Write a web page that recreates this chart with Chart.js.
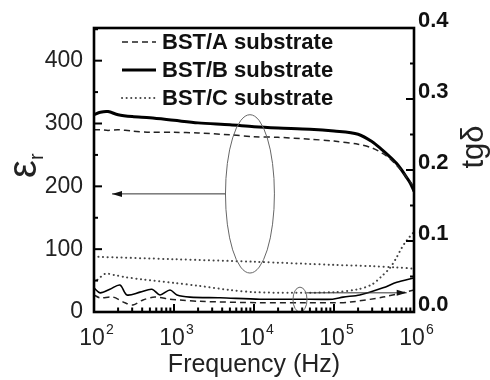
<!DOCTYPE html>
<html><head><meta charset="utf-8">
<script src="https://cdn.jsdelivr.net/npm/chart.js@4.4.1/dist/chart.umd.min.js"></script>
<style>html,body{margin:0;padding:0;background:#fff;}canvas{display:block;}</style>
</head><body>
<canvas id="c" width="490" height="380"></canvas>
<script>
// ---- data ----
const freqEps = [100,120,150,200,300,500,1000,2000,5000,1e4,2e4,5e4,1e5,2e5,3e5,4e5,5e5,6e5,7e5,8e5,9e5,1e6];
const epsA = [290,290,289,290,288,286,286,285,282,279,278,275,272,267,261,253,244,234,225,215,207,199];
const epsB = [314,318,319,314,311,309,305,301,298,295,293,291,288,283,271,258,247,237,226,215,205,192];
const freqEpsC = [100,1000,1e4,1e5,3e5,6e5,1e6];
const epsC = [88,84,80,75,73,71,69];

const freqTanA = [100,119,173,244,307,410,578,891,1189,2113,1.19e4,3.76e4,9.6e4,1.6e5,4.1e5,1e6];
const tanA = [0.024,0.020,0.021,0.013,0.010,0.017,0.021,0.018,0.017,0.015,0.013,0.013,0.013,0.014,0.021,0.031];
const freqTanB = [100,119,158,211,258,376,531,668,891,1089,1585,3758,1.19e4,3.76e4,9.6e4,1.3e5,2.1e5,4.1e5,6.1e5,1e6];
const tanB = [0.034,0.027,0.032,0.038,0.024,0.028,0.032,0.024,0.031,0.024,0.021,0.020,0.018,0.018,0.018,0.021,0.024,0.034,0.042,0.048];
const freqTanC = [100,120,140,180,250,400,1000,2000,5000,1e4,3e4,1e5,2e5,3e5,4e5,5e5,6e5,7e5,8e5,1e6];
const tanC = [0.041,0.049,0.054,0.052,0.049,0.046,0.041,0.037,0.031,0.028,0.027,0.028,0.032,0.039,0.051,0.062,0.076,0.090,0.100,0.113];

const seriesLabels = ['BST/A substrate','BST/B substrate','BST/C substrate'];
const xTickValues = [1e2,1e3,1e4,1e5,1e6];
const xTickBase = '10';
const xTickExponents = ['2','3','4','5','6'];
const yTickValues = [0,100,200,300,400];
const y2TickValues = [0,0.1,0.2,0.3,0.4];
const y2TickLabels = ['0.0','0.1','0.2','0.3','0.4'];
const xRange = [100,1e6];
const yRange = [0,452];
const y2Range = [0,0.4];
// annotation anchors in data units
const bigEllipse = {f:[4400,18000], v:[62,314]};
const bigArrow = {f:[4400,168], v:188};
const smallEllipse = {f:[30700,46000], v:[0,0.035]};
const smallArrow = {f:[46000,8.1e5], v:0.027};

const pts = (xs, ys) => xs.map((x,i)=>({x, y: ys[i]}));

const styleA = {borderColor:'#222', borderWidth:1.5, borderDash:[6,4]};
const styleB = {borderColor:'#000', borderWidth:3, borderDash:[]};
const styleC = {borderColor:'#444', borderWidth:2, borderDash:[0.1,4.5], borderCapStyle:'round'};

const common = {pointRadius:0, fill:false, tension:0.3};
const datasets = [
  {label:seriesLabels[0], data:pts(freqEps,epsA), yAxisID:'y', ...styleA, ...common},
  {label:seriesLabels[1], data:pts(freqEps,epsB), yAxisID:'y', ...styleB, ...common},
  {label:seriesLabels[2], data:pts(freqEpsC,epsC), yAxisID:'y', ...styleC, ...common},
  {label:seriesLabels[0]+' tg', data:pts(freqTanA,tanA), yAxisID:'y2', ...styleA, ...common},
  {label:seriesLabels[1]+' tg', data:pts(freqTanB,tanB), yAxisID:'y2', ...styleB, borderWidth:1.6, ...common},
  {label:seriesLabels[2]+' tg', data:pts(freqTanC,tanC), yAxisID:'y2', ...styleC, ...common},
];

const FONT = "'Liberation Sans', Arial, sans-serif";

const frame = {
  id:'frame',
  afterDatasetsDraw(chart){
    const {ctx, chartArea:a, scales:{x,y,y2}} = chart;
    ctx.save();
    const line=(x1,y1,x2,y2_)=>{ctx.beginPath();ctx.moveTo(x1,y1);ctx.lineTo(x2,y2_);ctx.stroke();};
    // annotations
    ctx.strokeStyle='#666'; ctx.lineWidth=1; ctx.setLineDash([]);
    const ell=(e,ys)=>{
      const x1=x.getPixelForValue(e.f[0]), x2=x.getPixelForValue(e.f[1]);
      const yA=ys.getPixelForValue(e.v[0]), yB=ys.getPixelForValue(e.v[1]);
      ctx.beginPath(); ctx.ellipse((x1+x2)/2,(yA+yB)/2,Math.abs(x2-x1)/2,Math.abs(yA-yB)/2,0,0,Math.PI*2); ctx.stroke();
    };
    const arrow=(ar,ys)=>{
      const x1=x.getPixelForValue(ar.f[0]), x2=x.getPixelForValue(ar.f[1]), yy=ys.getPixelForValue(ar.v);
      ctx.strokeStyle='#333'; line(x1,yy,x2,yy);
      const dir=Math.sign(x2-x1);
      ctx.fillStyle='#111'; ctx.beginPath(); ctx.moveTo(x2,yy); ctx.lineTo(x2-dir*10,yy-3); ctx.lineTo(x2-dir*10,yy+3); ctx.closePath(); ctx.fill();
    };
    ell(bigEllipse,y); arrow(bigArrow,y);
    ctx.strokeStyle='#666'; ell(smallEllipse,y2); arrow(smallArrow,y2);
    // inward ticks
    ctx.strokeStyle='#000'; ctx.lineWidth=2;
    for(let d=2; d<=6; d++) for(let m=1;m<=9;m++){const v=m*Math.pow(10,d); if(v>1e6) break; const px=x.getPixelForValue(v); line(px,a.bottom,px,a.bottom-(m===1?8:4.5));}
    for(let v=0; v<=450; v+=50){const py=y.getPixelForValue(v); line(a.left,py,a.left+(v%100===0?8:4),py);}
    for(let i=0;i<=8;i++){const v=i*0.05; const py=y2.getPixelForValue(v); line(a.right,py,a.right-(i%2===0?8:4),py);}
    ctx.lineWidth=2.6; ctx.strokeRect(a.left,a.top,a.right-a.left,a.bottom-a.top);
    // x tick labels: 10 with raised exponent
    ctx.fillStyle='#222'; ctx.textBaseline='alphabetic'; ctx.textAlign='left';
    xTickValues.forEach((v,i)=>{
      const px=x.getPixelForValue(v);
      ctx.font="23px "+FONT; const wb=ctx.measureText(xTickBase).width;
      ctx.font="14px "+FONT; const we=ctx.measureText(xTickExponents[i]).width;
      const x0=px-(wb+we)/2+2;
      ctx.font="23px "+FONT; ctx.fillText(xTickBase,x0,345);
      ctx.font="14px "+FONT; ctx.fillText(xTickExponents[i],x0+wb+1,334);
    });
    // legend
    const legendStyles=[styleA,styleB,styleC];
    ctx.font="bold 22px "+FONT; ctx.textBaseline='middle'; ctx.textAlign='left'; ctx.fillStyle='#111';
    legendStyles.forEach((s,i)=>{
      const yy=a.top+14+i*28;
      ctx.strokeStyle=s.borderColor; ctx.lineWidth=s.borderWidth; ctx.setLineDash(s.borderDash); ctx.lineCap=s.borderCapStyle||'butt';
      line(a.left+28,yy,a.left+62,yy);
      ctx.setLineDash([]); ctx.lineCap='butt';
      ctx.fillText(seriesLabels[i],a.left+68,yy+1);
    });
    // axis titles
    ctx.fillStyle='#222';
    ctx.font="25px "+FONT; ctx.textAlign='center'; ctx.textBaseline='alphabetic';
    ctx.fillText('Frequency (Hz)',(a.left+a.right)/2,372);
    ctx.save(); ctx.translate(483,147); ctx.rotate(-Math.PI/2); ctx.font="31px "+FONT; ctx.fillText('tg\u03B4',0,0); ctx.restore();
    ctx.save(); ctx.translate(36,165); ctx.rotate(-Math.PI/2); ctx.textAlign='left';
    ctx.font="40px "+FONT; const w=ctx.measureText('\u03B5').width; ctx.fillText('\u03B5',-w/2-4,0);
    ctx.font="20px "+FONT; ctx.fillText('r',w/2-4,7); ctx.restore();
    ctx.restore();
  }
};

new Chart(document.getElementById('c'),{
  type:'line',
  data:{datasets},
  options:{
    responsive:false, animation:false, devicePixelRatio:1,
    layout:{padding:{top:28,left:0,right:0,bottom:0}},
    plugins:{legend:{display:false}, tooltip:{enabled:false}},
    scales:{
      x:{type:'logarithmic', position:'bottom', min:xRange[0], max:xRange[1],
        afterBuildTicks:s=>{s.ticks=xTickValues.map(v=>({value:v}));},
        afterFit:s=>{s.height=68;},
        grid:{display:false, drawTicks:false}, border:{display:false},
        ticks:{display:false}},
      y:{type:'linear', position:'left', min:yRange[0], max:yRange[1],
        afterBuildTicks:s=>{s.ticks=yTickValues.map(v=>({value:v}));},
        afterFit:s=>{s.width=94;},
        grid:{display:false, drawTicks:false}, border:{display:false},
        ticks:{padding:11, color:'#222', font:{family:FONT,size:23}}},
      y2:{type:'linear', position:'right', min:y2Range[0], max:y2Range[1],
        afterBuildTicks:s=>{s.ticks=y2TickValues.map(v=>({value:v}));},
        afterFit:s=>{s.width=76;},
        grid:{display:false, drawTicks:false}, border:{display:false},
        ticks:{padding:4, labelOffset:-7, color:'#111', font:{family:FONT,size:22,weight:'bold'},
          callback:(v)=>{const i=y2TickValues.findIndex(t=>Math.abs(t-v)<1e-9); return i>=0?y2TickLabels[i]:'';}}}
    }
  },
  plugins:[frame]
});
</script>
</body></html>
